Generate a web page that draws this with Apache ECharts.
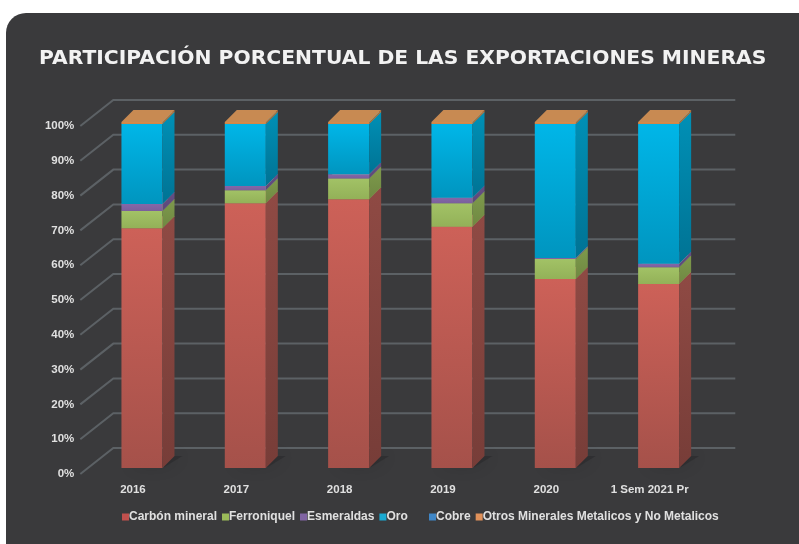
<!DOCTYPE html>
<html>
<head>
<meta charset="utf-8">
<script src="https://cdn.jsdelivr.net/npm/echarts@6/dist/echarts.min.js"></script>
<style>
  html, body { margin: 0; padding: 0; background: #ffffff; }
  #chart { width: 799px; height: 544px; }
</style>
</head>
<body>
<div id="chart"></div>
<script>
// Categories and shares (%) per mineral
const categories = ['2016', '2017', '2018', '2019', '2020', '1 Sem 2021 Pr'];
const carbonMineral = [69.3, 76.5, 77.7, 69.7, 54.6, 53.2];
const ferroniquel   = [5.0, 3.8, 6.0, 6.8, 5.8, 4.8];
const esmeraldas    = [2.0, 1.2, 1.2, 1.6, 0.3, 1.0];
const oro           = [23.1, 17.9, 14.5, 21.3, 38.7, 40.4];
const cobre         = [0, 0, 0, 0, 0, 0];
const otros         = [0.6, 0.6, 0.6, 0.6, 0.6, 0.6];
const yTicks = [0, 10, 20, 30, 40, 50, 60, 70, 80, 90, 100];

const seriesDefs = [
  { name: 'Carbón mineral', values: carbonMineral, legend: '#c0504d',
    front: ['#cd6158', '#a5514a'], side: ['#8f4a44', '#773d38'], top: '#d47068' },
  { name: 'Ferroniquel', values: ferroniquel, legend: '#9bbb59',
    front: ['#a2c266', '#93b158'], side: ['#7e9a4c', '#6f8842'], top: '#b0cc78' },
  { name: 'Esmeraldas', values: esmeraldas, legend: '#8064a2',
    front: ['#8467a8', '#7a5f9c'], side: ['#654f85', '#5c4879'], top: '#9a80bb' },
  { name: 'Oro', values: oro, legend: '#1aa9d2',
    front: ['#00b6e8', '#0095bf'], side: ['#0090b6', '#007394'], top: '#3cc4ea' },
  { name: 'Cobre', values: cobre, legend: '#3f86c6',
    front: ['#4f81bd', '#416ea3'], side: ['#3d6797', '#335983'], top: '#6c97cc' },
  { name: 'Otros Minerales Metalicos y No Metalicos', values: otros, legend: '#e0915a',
    front: ['#d78c4c', '#cf8446'], side: ['#b06e38', '#a86832'], top: '#c88a52' }
];

// depth offsets of the 3D look
const BAR_DX = 12, BAR_DY = 12;   // bar side / top face
const WALL_DX = 33, WALL_DY = 26; // floor depth from front plane to back wall

const labelFont = { fontFamily: 'Liberation Sans', fontWeight: 'bold', color: '#e0e0e0' };

function vGrad(c) {
  return { type: 'linear', x: 0, y: 0, x2: 0, y2: 1,
    colorStops: [{ offset: 0, color: c[0] }, { offset: 1, color: c[1] }] };
}

// cumulative stacking
const stackBase = categories.map(() => 0);
const barSeries = seriesDefs.map((def, sIdx) => {
  const data = def.values.map((v, i) => {
    const start = stackBase[i];
    stackBase[i] += v;
    return [i, start, start + v];
  });
  return {
    type: 'custom',
    name: def.name,
    xAxisIndex: 1,
    yAxisIndex: 1,
    z: 5 + sIdx,
    itemStyle: { color: def.legend },
    encode: { x: 0, y: [1, 2] },
    data: data,
    renderItem: function (params, api) {
      const idx = api.value(0), start = api.value(1), end = api.value(2);
      if (end - start <= 0) return { type: 'group', children: [] };
      const pB = api.coord([idx, start]);
      const pT = api.coord([idx, end]);
      const w = api.size([1, 0])[0] * 0.397;
      const x0 = pT[0] - w / 2, x1 = x0 + w;
      const yT = pT[1], yB = pB[1];
      const children = [];
      if (sIdx === 0) {
        // soft shadow on the floor
        children.push({
          type: 'polygon',
          shape: { points: [[x0 + 8, yB - 1], [x1 + 2, yB - 1], [x1 + BAR_DX + 8, yB - BAR_DY], [x0 + BAR_DX + 6, yB - BAR_DY]] },
          style: { fill: 'rgba(28,28,30,0.3)', shadowBlur: 16, shadowColor: 'rgba(0,0,0,0.4)' },
          z2: 0
        });
      }
      children.push({
        type: 'rect',
        shape: { x: x0, y: yT, width: w, height: yB - yT },
        style: { fill: vGrad(def.front) },
        z2: 2
      });
      children.push({
        type: 'polygon',
        shape: { points: [[x1, yB], [x1, yT], [x1 + BAR_DX, yT - BAR_DY], [x1 + BAR_DX, yB - BAR_DY]] },
        style: { fill: vGrad(def.side) },
        z2: 2
      });
      children.push({
        type: 'polygon',
        shape: { points: [[x0, yT], [x1, yT], [x1 + BAR_DX, yT - BAR_DY], [x0 + BAR_DX, yT - BAR_DY]] },
        style: { fill: def.top },
        z2: 2
      });
      return { type: 'group', children: children };
    }
  };
});

// floor diagonals and back-wall grid lines
const wallSeries = {
  type: 'custom',
  name: 'wall',
  xAxisIndex: 0,
  yAxisIndex: 0,
  z: 1,
  silent: true,
  legendHoverLink: false,
  data: yTicks.map(v => [0, v]),
  renderItem: function (params, api) {
    const y = api.coord([0, api.value(1)])[1];
    const cs = params.coordSys;
    const x = cs.x - 1;
    return {
      type: 'polyline',
      shape: { points: [[x, y], [x + WALL_DX, y - WALL_DY], [cs.x + cs.width + 34, y - WALL_DY]] },
      style: { stroke: '#5c6165', lineWidth: 2, fill: null }
    };
  }
};

const legendNames = seriesDefs.map(d => d.name);
function legendBlock(names, left, gap) {
  return {
    bottom: 16,
    left: left,
    itemWidth: 7,
    itemHeight: 7,
    itemGap: gap,
    icon: 'rect',
    selectedMode: false,
    textStyle: Object.assign({ fontSize: 12, padding: [0, 0, 0, -5] }, labelFont),
    data: names
  };
}

const chart = echarts.init(document.getElementById('chart'), null, { renderer: 'canvas' });
chart.setOption({
  backgroundColor: '#ffffff',
  animation: false,
  graphic: [{
    type: 'rect',
    z: -100,
    silent: true,
    shape: { x: 6, y: 13, width: 840, height: 560, r: 20 },
    style: { fill: '#3a3a3c' }
  }],
  title: {
    text: 'PARTICIPACIÓN PORCENTUAL DE LAS EXPORTACIONES MINERAS',
    left: 39,
    top: 49,
    padding: 0,
    textStyle: { fontFamily: 'DejaVu Sans', fontWeight: 'bold', fontSize: 20.3, color: '#f2f2f2' }
  },
  legend: [
    legendBlock(legendNames.slice(0, 4), 117, 5),
    legendBlock(legendNames.slice(4), 424, 5)
  ],
  grid: [
    // front plane: axis labels and floor edge
    { left: 81.3, right: 97.7, top: 126, bottom: 70 },
    // bar front faces
    { left: 90.3, right: 88.7, top: 122, bottom: 76 }
  ],
  xAxis: [
    { type: 'category', gridIndex: 0, data: categories,
      axisLine: { show: false }, axisTick: { show: false },
      axisLabel: Object.assign({ margin: 10, fontSize: 11.5 }, labelFont) },
    { type: 'category', gridIndex: 1, data: categories, show: false }
  ],
  yAxis: [
    { type: 'value', gridIndex: 0, min: 0, max: 100, interval: 10,
      axisLine: { show: false }, axisTick: { show: false }, splitLine: { show: false },
      axisLabel: Object.assign({ margin: 7, formatter: '{value}%', fontSize: 11.5 }, labelFont) },
    { type: 'value', gridIndex: 1, min: 0, max: 100, show: false, splitLine: { show: false } }
  ],
  series: [wallSeries].concat(barSeries)
});
</script>
</body>
</html>
